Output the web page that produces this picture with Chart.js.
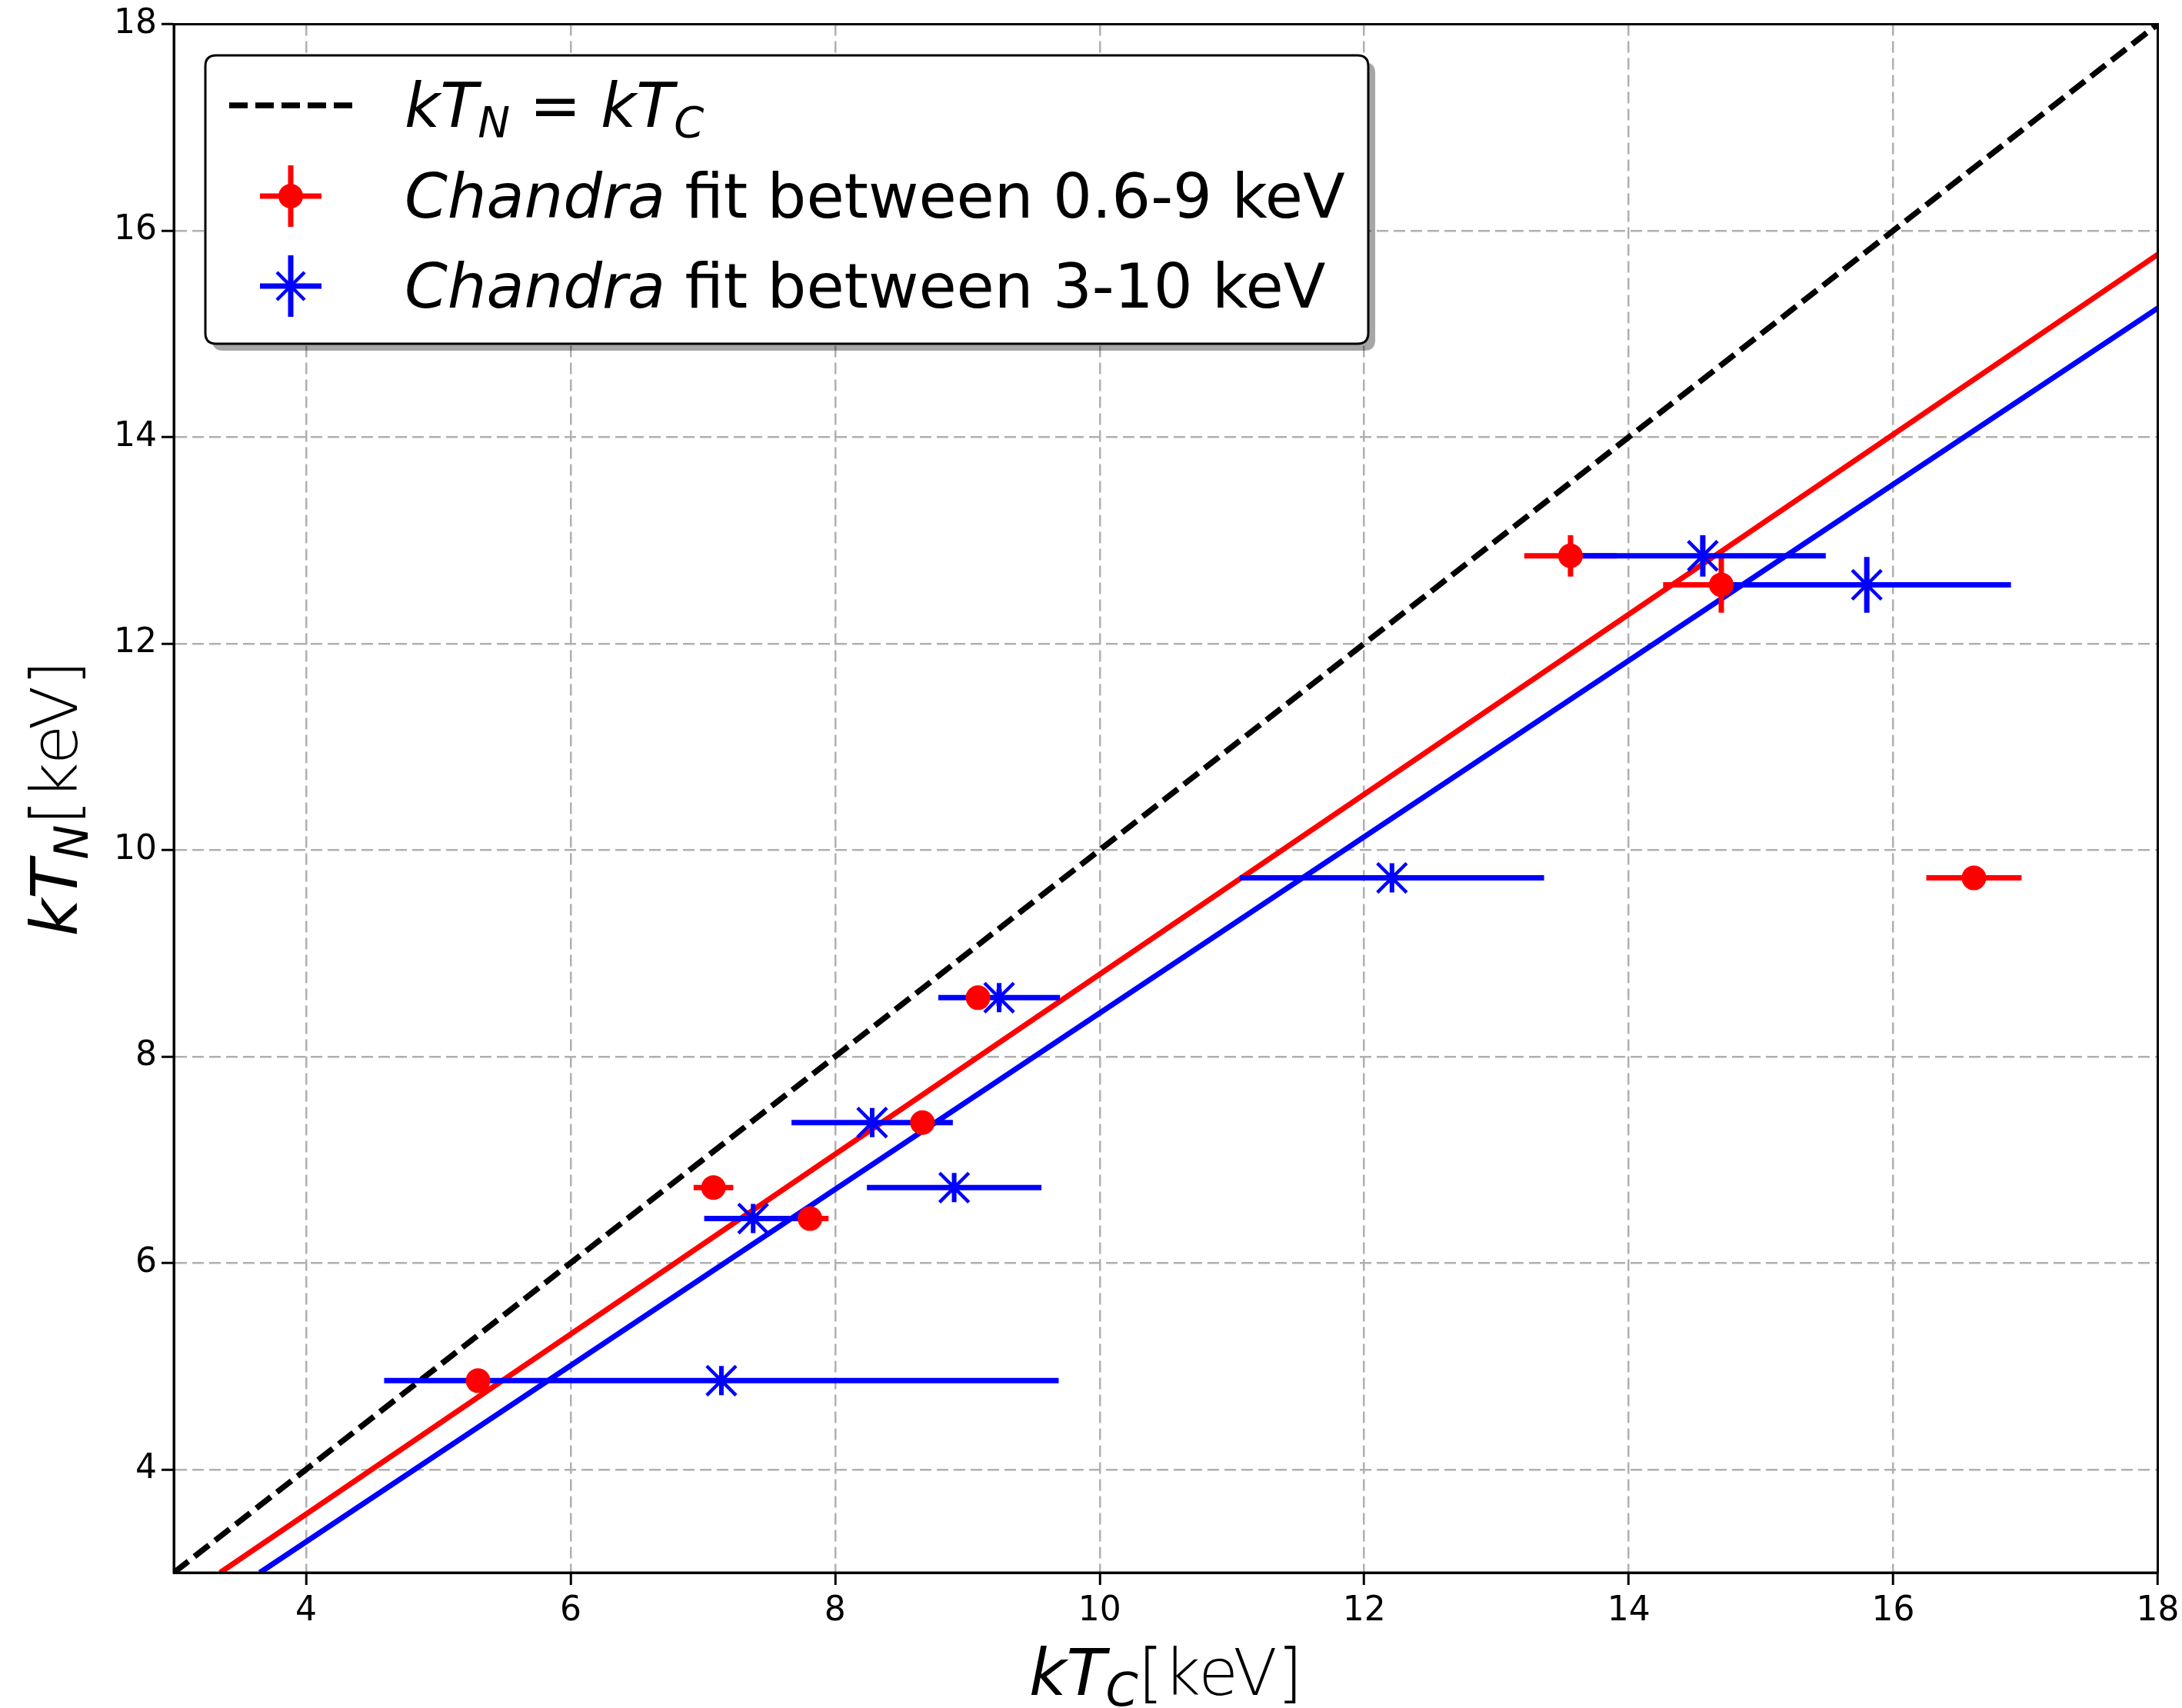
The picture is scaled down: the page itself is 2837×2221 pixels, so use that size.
<!DOCTYPE html>
<html>
<head>
<meta charset="utf-8">
<script src="https://cdn.jsdelivr.net/npm/chart.js@4.4.0/dist/chart.umd.min.js"></script>
<style>
  html, body { margin: 0; padding: 0; background: #fff; }
  #wrap { width: 2837px; height: 2221px; }
</style>
</head>
<body>
<div id="wrap"><canvas id="chart" width="2837" height="2221"></canvas></div>
<script>
// Chandra fit 0.6-9 keV (red)
let redX = [5.30, 7.08, 7.81, 8.66, 9.08, 13.56, 14.70, 16.61];
let redY = [4.86, 6.73, 6.43, 7.36, 8.57, 12.85, 12.57, 9.73];
let redXErr = [0.05, 0.15, 0.14, 0.05, 0.05, 0.35, 0.44, 0.36];
let redYErr = [0.05, 0.05, 0.05, 0.05, 0.08, 0.20, 0.27, 0.05];

// Chandra fit 3-10 keV (blue)
let blueX = [7.14, 7.38, 8.28, 8.90, 9.24, 12.21, 14.56, 15.80];
let blueY = [4.86, 6.43, 7.36, 6.73, 8.57, 9.73, 12.85, 12.57];
let blueXErr = [2.55, 0.37, 0.61, 0.66, 0.46, 1.15, 0.93, 1.09];
let blueYErr = [0.05, 0.05, 0.05, 0.05, 0.08, 0.05, 0.20, 0.27];

// lines
let equalX = [3, 18];
let equalY = [3, 18];
let redFitX = [3.35, 18];
let redFitY = [3, 15.77];
let blueFitX = [3.65, 18];
let blueFitY = [3, 15.25];

let xTicks = [4, 6, 8, 10, 12, 14, 16, 18];
let yTicks = [4, 6, 8, 10, 12, 14, 16, 18];

const FONT = "'DejaVu Sans', 'Liberation Sans', sans-serif";

function points(xs, ys) {
    return xs.map((x, i) => ({x: x, y: ys[i]}));
}

// error bars as broken line segments
function errorSegments(xs, ys, xe, ye) {
    let out = [];
    xs.forEach((x, i) => {
        out.push({x: x - xe[i], y: ys[i]}, {x: x + xe[i], y: ys[i]}, {x: null, y: null});
        out.push({x: x, y: ys[i] - ye[i]}, {x: x, y: ys[i] + ye[i]}, {x: null, y: null});
    });
    return out;
}

function drawRuns(ctx, x, y, runs) {
    runs.forEach(r => {
        ctx.font = r.font;
        ctx.fillText(r.text, x, y + (r.dy || 0));
        x += ctx.measureText(r.text).width;
    });
    return x;
}

function runsWidth(ctx, runs) {
    let w = 0;
    runs.forEach(r => { ctx.font = r.font; w += ctx.measureText(r.text).width; });
    return w;
}

function roundRect(ctx, x, y, w, h, r) {
    ctx.beginPath();
    ctx.moveTo(x + r, y);
    ctx.lineTo(x + w - r, y);
    ctx.quadraticCurveTo(x + w, y, x + w, y + r);
    ctx.lineTo(x + w, y + h - r);
    ctx.quadraticCurveTo(x + w, y + h, x + w - r, y + h);
    ctx.lineTo(x + r, y + h);
    ctx.quadraticCurveTo(x, y + h, x, y + h - r);
    ctx.lineTo(x, y + r);
    ctx.quadraticCurveTo(x, y, x + r, y);
    ctx.closePath();
}

let decorPlugin = {
    id: 'decor',
    afterDraw: function (chart) {
        let ctx = chart.ctx;
        let a = chart.chartArea;
        ctx.save();

        // frame
        ctx.strokeStyle = '#000';
        ctx.lineWidth = 3;
        ctx.strokeRect(a.left, a.top, a.right - a.left, a.bottom - a.top);

        ctx.fillStyle = '#000';
        ctx.textBaseline = 'alphabetic';

        // x title
        let xRuns = [
            {text: 'kT', font: 'italic 84px ' + FONT},
            {text: 'C', font: 'italic 60px ' + FONT, dy: 14},
            {text: '[keV]', font: '200 84px ' + FONT}
        ];
        let cx = (a.left + a.right) / 2;
        drawRuns(ctx, cx - runsWidth(ctx, xRuns) / 2, 2204, xRuns);

        // y title
        let yRuns = [
            {text: 'kT', font: 'italic 84px ' + FONT},
            {text: 'N', font: 'italic 60px ' + FONT, dy: 14},
            {text: '[keV]', font: '200 84px ' + FONT}
        ];
        ctx.save();
        ctx.translate(100, (a.top + a.bottom) / 2);
        ctx.rotate(-Math.PI / 2);
        drawRuns(ctx, -runsWidth(ctx, yRuns) / 2, 0, yRuns);
        ctx.restore();

        // legend box
        let lx = 267, ly = 72, lw = 1512, lh = 375;
        ctx.fillStyle = 'rgba(0,0,0,0.35)';
        roundRect(ctx, lx + 9, ly + 9, lw, lh, 14);
        ctx.fill();
        ctx.fillStyle = '#fff';
        roundRect(ctx, lx, ly, lw, lh, 14);
        ctx.fill();
        ctx.strokeStyle = '#000';
        ctx.lineWidth = 3;
        ctx.stroke();

        // legend handles
        ctx.strokeStyle = '#000';
        ctx.lineWidth = 7.5;
        ctx.setLineDash([24, 10]);
        ctx.beginPath();
        ctx.moveTo(298, 137);
        ctx.lineTo(460, 137);
        ctx.stroke();
        ctx.setLineDash([]);

        let hx = 378;
        ctx.strokeStyle = '#ff0000';
        ctx.lineWidth = 7;
        ctx.beginPath();
        ctx.moveTo(hx - 40, 255); ctx.lineTo(hx + 40, 255);
        ctx.moveTo(hx, 215); ctx.lineTo(hx, 295);
        ctx.stroke();
        ctx.fillStyle = '#ff0000';
        ctx.beginPath();
        ctx.arc(hx, 255, 16, 0, Math.PI * 2);
        ctx.fill();

        ctx.strokeStyle = '#0000ff';
        ctx.beginPath();
        ctx.moveTo(hx - 40, 372); ctx.lineTo(hx + 40, 372);
        ctx.moveTo(hx, 332); ctx.lineTo(hx, 412);
        ctx.stroke();
        ctx.lineWidth = 4.5;
        ctx.beginPath();
        let d = 18;
        ctx.moveTo(hx - d, 372 - d); ctx.lineTo(hx + d, 372 + d);
        ctx.moveTo(hx - d, 372 + d); ctx.lineTo(hx + d, 372 - d);
        ctx.stroke();

        // legend texts
        ctx.fillStyle = '#000';
        let tx = 526;
        drawRuns(ctx, tx, 165, [
            {text: 'kT', font: 'italic 80px ' + FONT},
            {text: 'N', font: 'italic 56px ' + FONT, dy: 13},
            {text: ' = ', font: '80px ' + FONT},
            {text: 'kT', font: 'italic 80px ' + FONT},
            {text: 'C', font: 'italic 56px ' + FONT, dy: 13}
        ]);
        drawRuns(ctx, tx, 283, [
            {text: 'Chandra', font: 'italic 80px ' + FONT},
            {text: ' fit between 0.6-9 keV', font: '80px ' + FONT}
        ]);
        drawRuns(ctx, tx, 400, [
            {text: 'Chandra', font: 'italic 80px ' + FONT},
            {text: ' fit between 3-10 keV', font: '80px ' + FONT}
        ]);

        ctx.restore();
    }
};

let lineDefaults = {showLine: true, pointRadius: 0, pointHoverRadius: 0, spanGaps: false, fill: false};

let chartDraw = function () {
    let painter = document.getElementById('chart').getContext('2d');
    window.kTChart = new Chart(painter, {
        type: 'scatter',
        data: {
            datasets: [
                Object.assign({
                    label: 'kT_N = kT_C', data: points(equalX, equalY),
                    borderColor: '#000', borderWidth: 7.5, borderDash: [24, 10], order: 7
                }, lineDefaults),
                Object.assign({
                    label: 'red fit', data: points(redFitX, redFitY),
                    borderColor: '#ff0000', borderWidth: 7, order: 5
                }, lineDefaults),
                Object.assign({
                    label: 'blue fit', data: points(blueFitX, blueFitY),
                    borderColor: '#0000ff', borderWidth: 7, order: 6
                }, lineDefaults),
                Object.assign({
                    label: 'red err', data: errorSegments(redX, redY, redXErr, redYErr),
                    borderColor: '#ff0000', borderWidth: 7, borderCapStyle: 'butt', order: 4
                }, lineDefaults),
                Object.assign({
                    label: 'blue err', data: errorSegments(blueX, blueY, blueXErr, blueYErr),
                    borderColor: '#0000ff', borderWidth: 7, borderCapStyle: 'butt', order: 3
                }, lineDefaults),
                {
                    label: 'Chandra fit between 0.6-9 keV', data: points(redX, redY),
                    pointStyle: 'circle', pointRadius: 16, pointHoverRadius: 16,
                    backgroundColor: '#ff0000', borderColor: '#ff0000', pointBorderWidth: 0, order: 2
                },
                {
                    label: 'Chandra fit between 3-10 keV', data: points(blueX, blueY),
                    pointStyle: 'crossRot', pointRadius: 27, pointHoverRadius: 27,
                    borderColor: '#0000ff', backgroundColor: '#0000ff', pointBorderWidth: 4.5, order: 1
                },
                {
                    label: 'star arm', data: points(blueX, blueY),
                    pointStyle: 'line', pointRotation: 90, pointRadius: 19, pointHoverRadius: 19,
                    borderColor: '#0000ff', backgroundColor: '#0000ff', pointBorderWidth: 6, order: 0
                }
            ]
        },
        options: {
            responsive: false,
            animation: false,
            events: [],
            layout: {padding: {left: 0, right: 28, top: 31, bottom: 0}},
            scales: {
                x: {
                    type: 'linear',
                    min: 3,
                    max: 18,
                    afterBuildTicks: function (scale) { scale.ticks = xTicks.map(v => ({value: v})); },
                    afterFit: function (scale) { scale.height = 176; scale.paddingRight = 0; scale.paddingLeft = 0; },
                    grid: {color: '#b0b0b0', lineWidth: 2.5, tickColor: '#000', tickLength: 16, tickWidth: 3},
                    border: {display: true, color: '#000', width: 3, dash: [15, 7]},
                    ticks: {color: '#000', font: {family: FONT, size: 44}, padding: 8, maxRotation: 0}
                },
                y: {
                    type: 'linear',
                    min: 3,
                    max: 18,
                    afterBuildTicks: function (scale) { scale.ticks = yTicks.map(v => ({value: v})); },
                    afterFit: function (scale) { scale.width = 226; scale.paddingTop = 0; scale.paddingBottom = 0; },
                    grid: {color: '#b0b0b0', lineWidth: 2.5, tickColor: '#000', tickLength: 16, tickWidth: 3},
                    border: {display: true, color: '#000', width: 3, dash: [15, 7]},
                    ticks: {color: '#000', font: {family: FONT, size: 44}, padding: 6}
                }
            },
            plugins: {
                legend: {display: false},
                tooltip: {enabled: false}
            }
        },
        plugins: [decorPlugin]
    });
};

window.onload = function () {
    chartDraw();
};
</script>
</body>
</html>
